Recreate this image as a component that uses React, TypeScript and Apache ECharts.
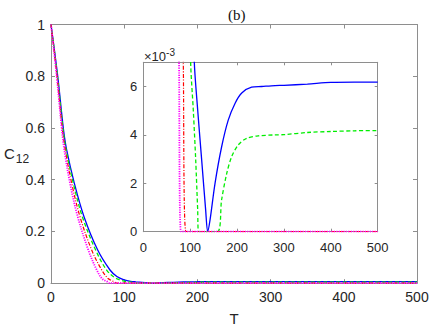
import React, { useEffect, useRef } from "react";
import * as echarts from "echarts";

// ---- data ----
const titleText = "(b)";
const xAxisName = "T";
const insetScaleText = "-3";

const xTickValues = [0, 100, 200, 300, 400, 500];

const blueT = [0, 9.2, 16.8, 21.4, 31.9, 45.1, 63.8, 80.6, 90, 100, 108.8, 116, 124.5, 133, 137.3, 142.3, 153, 167, 181, 195.6, 210, 231, 252.5, 281, 300, 350, 400, 450, 500];
const blueV = [1, 0.8, 0.6, 0.515, 0.386, 0.257, 0.128, 0.051, 0.026, 0.013, 0.007, 0.00503, 0.00297, 0.0009, 0, 0.00048, 0.002, 0.0035, 0.0046, 0.0053, 0.00573, 0.00597, 0.006, 0.00604, 0.00605, 0.0061, 0.00617, 0.00618, 0.00618];

const greenT = [0, 8.8, 16.2, 20.6, 30.5, 42.8, 61, 76, 88, 101, 106.7, 111.7, 116, 118, 158, 167, 178, 188.5, 202.7, 220.5, 245, 281, 300, 350, 400, 450, 500];
const greenV = [1, 0.8, 0.6, 0.515, 0.386, 0.257, 0.128, 0.051, 0.02, 0.007, 0.005, 0.003, 0.0009, 0, 0, 0.00131, 0.00241, 0.0031, 0.00359, 0.00386, 0.00396, 0.004, 0.00401, 0.0041, 0.00414, 0.00417, 0.00418];

const redT = [0, 8.2, 15.3, 19.5, 28.3, 39.6, 55.6, 69.3, 78, 85.3, 91, 500];
const redV = [1, 0.8, 0.6, 0.515, 0.386, 0.257, 0.128, 0.051, 0.018, 0.007, 0, 0];

const magentaT = [0, 7.8, 14.6, 18.2, 26, 36.5, 51, 62.5, 70, 76.2, 80.4, 500];
const magentaV = [1, 0.8, 0.6, 0.515, 0.386, 0.257, 0.128, 0.051, 0.017, 0.007, 0, 0];

const AXIS_COLOR = "#8e8e8e";
const LABEL_COLOR = "#262626";
const SANS = "Liberation Sans, Arial, Helvetica, sans-serif";

function pairs(t: number[], v: number[]) {
  return t.map((x, i) => [x, v[i]]);
}

const seriesDefs = [
  { name: "blue", t: blueT, v: blueV, color: "#0000ff", type: "solid" as any, width: 1.3 },
  { name: "green", t: greenT, v: greenV, color: "#00ee00", type: [4, 2.5] as any, width: 1.3 },
  { name: "red", t: redT, v: redV, color: "#ff0000", type: [4, 1.6, 1, 1.6] as any, width: 1.2 },
  { name: "magenta", t: magentaT, v: magentaV, color: "#ff00ff", type: [1.2, 1.2] as any, width: 1.8 },
];

function axisBase(fontSize: number, showLabel: boolean, tickLen: number, margin = 8) {
  return {
    axisLine: { show: true, onZero: false, lineStyle: { color: AXIS_COLOR, width: 1 } },
    axisTick: { show: true, inside: true, length: tickLen, lineStyle: { color: AXIS_COLOR, width: 1 } },
    splitLine: { show: false },
    axisLabel: { show: showLabel, color: LABEL_COLOR, fontSize, fontFamily: SANS, margin },
  };
}

export default function App() {
  const ref = useRef<HTMLDivElement>(null);
  useEffect(() => {
    if (!ref.current) return;
    const chart = echarts.init(ref.current, undefined, { renderer: "svg" });

    const mainGrid = { left: 51, top: 24.5, width: 366, height: 258.7 };
    const insetGrid = { left: 143.3, top: 62.3, width: 234.4, height: 169.4 };

    const xMain = { type: "value", min: xTickValues[0], max: xTickValues[xTickValues.length - 1], interval: 100 };

    const series: any[] = [];
    seriesDefs.forEach((s) => {
      series.push({
        type: "line",
        name: s.name,
        xAxisIndex: 0,
        yAxisIndex: 0,
        data: pairs(s.t, s.v),
        showSymbol: false,
        symbol: "none",
        smooth: 0.35,
        clip: true,
        lineStyle: { color: s.color, width: s.width, type: s.type },
        z: 3,
      });
      series.push({
        type: "line",
        name: s.name + "-inset",
        xAxisIndex: 2,
        yAxisIndex: 2,
        data: pairs(s.t, s.v),
        showSymbol: false,
        symbol: "none",
        smooth: 0.3,
        clip: true,
        lineStyle: { color: s.color, width: s.width, type: s.type },
        z: 6,
      });
    });

    const option: any = {
      animation: false,
      backgroundColor: "#ffffff",
      grid: [
        { ...mainGrid, show: false, containLabel: false },
        { ...insetGrid, show: true, backgroundColor: "#ffffff", borderWidth: 0, containLabel: false, z: 4 },
      ],
      xAxis: [
        { ...xMain, gridIndex: 0, position: "bottom", ...axisBase(14, true, 4, 7) },
        { ...xMain, gridIndex: 0, position: "top", ...axisBase(14, false, 4) },
        { ...xMain, gridIndex: 1, position: "bottom", z: 5, ...axisBase(13, true, 3, 9) },
        { ...xMain, gridIndex: 1, position: "top", z: 5, ...axisBase(13, false, 3) },
      ],
      yAxis: [
        { type: "value", gridIndex: 0, min: 0, max: 1, interval: 0.2, position: "left", ...axisBase(14, true, 4, 6) },
        { type: "value", gridIndex: 0, min: 0, max: 1, interval: 0.2, position: "right", ...axisBase(14, false, 4) },
        {
          type: "value", gridIndex: 1, min: 0, max: 0.007, interval: 0.002, position: "left", z: 5,
          ...axisBase(13, true, 3, 6),
          axisLabel: {
            ...axisBase(13, true, 3, 6).axisLabel,
            formatter: (v: number) => (v > 0.0065 ? "" : String(Math.round(v * 1000))),
          },
        },
        { type: "value", gridIndex: 1, min: 0, max: 0.007, interval: 0.002, position: "right", z: 5, ...axisBase(13, false, 3) },
      ],
      graphic: [
        {
          type: "text",
          x: 236.7,
          y: 15,
          style: { text: titleText, font: "15px 'Liberation Serif', 'Times New Roman', serif", fill: "#111", align: "center", verticalAlign: "middle" },
        },
        {
          type: "text",
          x: 234,
          y: 318,
          style: { text: xAxisName, font: "15px " + SANS, fill: LABEL_COLOR, align: "center", verticalAlign: "middle" },
        },
        {
          type: "text",
          x: 4,
          y: 152,
          style: {
            text: "{c|C}{s|12}",
            rich: {
              c: { fontSize: 15, fontFamily: SANS, fill: LABEL_COLOR, verticalAlign: "bottom", lineHeight: 18 },
              s: { fontSize: 12, fontFamily: SANS, fill: LABEL_COLOR, verticalAlign: "bottom", lineHeight: 12, padding: [0, 0, -4, 1] },
            },
            verticalAlign: "middle",
          },
        },
        {
          type: "text",
          x: 144,
          y: 55,
          style: {
            text: "{a|×10}{b|" + insetScaleText + "}",
            rich: {
              a: { fontSize: 13, fontFamily: SANS, fill: LABEL_COLOR, verticalAlign: "bottom", lineHeight: 15 },
              b: { fontSize: 10, fontFamily: SANS, fill: LABEL_COLOR, verticalAlign: "top", lineHeight: 10, padding: [0, 0, 6, 0] },
            },
            verticalAlign: "middle",
          },
        },
      ],
      series,
    };
    chart.setOption(option);
    return () => chart.dispose();
  }, []);

  return <div ref={ref} style={{ position: "fixed", left: 0, top: 0, width: 436, height: 329 }} />;
}
